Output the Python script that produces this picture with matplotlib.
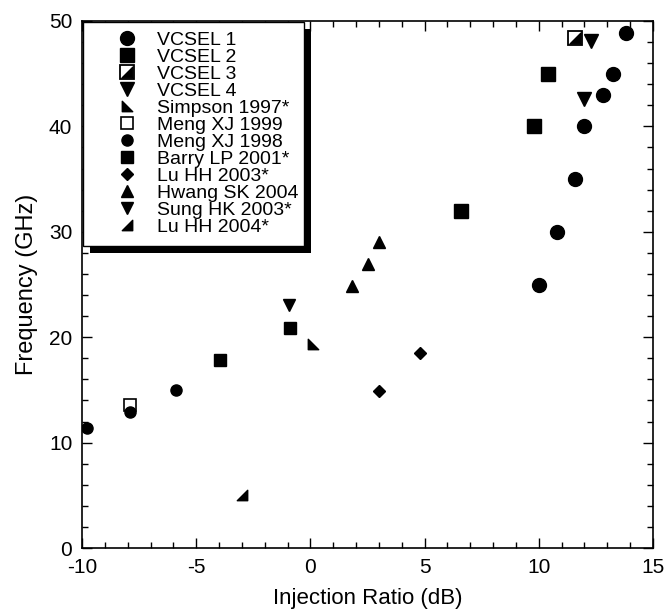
import matplotlib
matplotlib.use("Agg")
import matplotlib.pyplot as plt
from matplotlib.path import Path
from matplotlib.patches import Rectangle
from matplotlib.legend_handler import HandlerTuple
from matplotlib.ticker import MultipleLocator

plt.rcParams['font.family'] = ['Liberation Sans', 'DejaVu Sans']
plt.rcParams['axes.unicode_minus'] = False

# data: injection ratio (dB), frequency (GHz)
vcsel1_x = [10.0, 10.8, 11.6, 12.0, 12.8, 13.25, 13.8]
vcsel1_y = [25.0, 30.0, 35.0, 40.0, 43.0, 45.0, 48.9]
vcsel2_x = [6.6, 9.8, 10.4]
vcsel2_y = [32.0, 40.0, 45.0]
vcsel3_x = [11.6]
vcsel3_y = [48.4]
vcsel4_x = [12.0, 12.3]
vcsel4_y = [42.6, 48.1]
simpson_x = [0.1]
simpson_y = [19.4]
meng99_x = [-7.9]
meng99_y = [13.6]
meng98_x = [-9.8, -7.9, -5.9]
meng98_y = [11.4, 12.9, 15.0]
barry_x = [-3.95, -0.9]
barry_y = [17.8, 20.9]
luhh03_x = [3.0, 4.8]
luhh03_y = [14.9, 18.5]
hwang_x = [1.8, 2.5, 3.0]
hwang_y = [24.9, 26.9, 29.0]
sung_x = [-0.95]
sung_y = [23.1]
luhh04_x = [-3.0]
luhh04_y = [5.0]

# right-angle triangle markers
tri_bl = Path([(-1, -1), (-1, 1), (1, -1), (-1, -1)], closed=True)   # like ◣
tri_br = Path([(1, -1), (1, 1), (-1, -1), (1, -1)], closed=True)     # like ◢

fig = plt.figure(figsize=(6.67, 6.10), dpi=100)
ax = fig.add_axes([0.123, 0.1016, 0.856, 0.864])

k = dict(ls='none', color='black')
h1, = ax.plot(vcsel1_x, vcsel1_y, 'o', ms=10, **k)
h2, = ax.plot(vcsel2_x, vcsel2_y, 's', ms=10.5, **k)
h3a, = ax.plot(vcsel3_x, vcsel3_y, 's', ms=10, mfc='white', mec='black', mew=1.3, ls='none')
h3b, = ax.plot(vcsel3_x, vcsel3_y, marker=tri_br, ms=7.8, **k)
h4, = ax.plot(vcsel4_x, vcsel4_y, 'v', ms=9.5, **k)
h5, = ax.plot(simpson_x, simpson_y, marker=tri_bl, ms=7.5, **k)
h6, = ax.plot(meng99_x, meng99_y, 's', ms=8.5, mfc='white', mec='black', mew=1.2, ls='none')
h7, = ax.plot(meng98_x, meng98_y, 'o', ms=8, **k)
h8, = ax.plot(barry_x, barry_y, 's', ms=8.5, **k)
h9, = ax.plot(luhh03_x, luhh03_y, 'D', ms=6.5, **k)
h10, = ax.plot(hwang_x, hwang_y, '^', ms=8.5, **k)
h11, = ax.plot(sung_x, sung_y, 'v', ms=8.5, **k)
h12, = ax.plot(luhh04_x, luhh04_y, marker=tri_br, ms=7.5, **k)

ax.set_xlim(-10, 15)
ax.set_ylim(0, 50)
ax.xaxis.set_major_locator(MultipleLocator(5))
ax.xaxis.set_minor_locator(MultipleLocator(1))
ax.yaxis.set_major_locator(MultipleLocator(10))
ax.yaxis.set_minor_locator(MultipleLocator(2))
ax.tick_params(which='both', direction='in', top=True, right=True, width=1.0)
ax.tick_params(which='major', length=7, labelsize=15, pad=7)
ax.tick_params(which='minor', length=4)
for s in ax.spines.values():
    s.set_linewidth(1.2)

ax.set_xlabel('Injection Ratio (dB)', fontsize=16, labelpad=8)
ax.set_ylabel('Frequency (GHz)', fontsize=17, labelpad=8)

# legend box with heavy shadow on right and bottom
bx, by, bw, bh = 0.002, 0.573, 0.387, 0.425
ax.add_patch(Rectangle((bx + 0.0123, by - 0.0133), bw, bh, transform=ax.transAxes,
                       facecolor='black', edgecolor='none', zorder=4))
ax.add_patch(Rectangle((bx, by), bw, bh, transform=ax.transAxes,
                       facecolor='white', edgecolor='black', lw=1.0, zorder=5))

handles = [h1, h2, (h3a, h3b), h4, h5, h6, h7, h8, h9, h10, h11, h12]
labels = ['VCSEL 1', 'VCSEL 2', 'VCSEL 3', 'VCSEL 4', 'Simpson 1997*', 'Meng XJ 1999',
          'Meng XJ 1998', 'Barry LP 2001*', 'Lu HH 2003*', 'Hwang SK 2004',
          'Sung HK 2003*', 'Lu HH 2004*']
leg = ax.legend(handles, labels, loc='upper left', bbox_to_anchor=(0.049, 0.981),
                frameon=False, fontsize=14, handlelength=1.7, handletextpad=0.7,
                labelspacing=-0.03, borderpad=0, borderaxespad=0,
                handler_map={tuple: HandlerTuple(ndivide=1, pad=0)})
leg.set_zorder(6)

fig.savefig('out.png', dpi=100)
